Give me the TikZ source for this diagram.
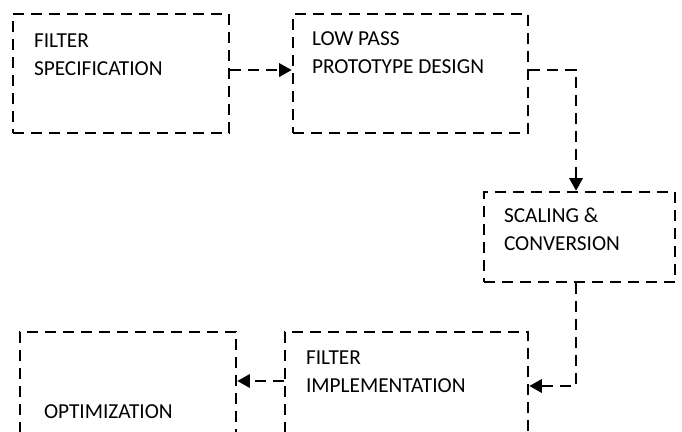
\documentclass[tikz,border=0pt]{standalone}
\usepackage{fontspec}
\setmainfont{Carlito}
\usetikzlibrary{arrows.meta}

\begin{document}
\begin{tikzpicture}[x=0.75pt,y=-0.75pt,
    box/.style={draw,line width=1.9pt,dash pattern=on 8.25pt off 5.25pt,inner sep=0pt},
    lbl/.style={anchor=north west,inner sep=0pt,align=left,font=\fontsize{16}{21}\selectfont},
    flow/.style={line width=1.9pt,dash pattern=on 8.25pt off 5.25pt,-{Triangle[length=9.5pt,width=10pt]}}]
    \useasboundingbox (0,0) rectangle (682,432);
    \clip (0,0) rectangle (682,432);
    % boxes
    \node[box,minimum width=162pt,minimum height=89.25pt] (spec) at (121,73.5) {};
    \node[box,minimum width=176.25pt,minimum height=89.25pt] (proto) at (410.5,73.5) {};
    \node[box,minimum width=143.25pt,minimum height=67.5pt] (scale) at (579.5,237) {};
    \node[box,minimum width=182.25pt,minimum height=81pt] (impl) at (406.5,386) {};
    \node[box,minimum width=162pt,minimum height=81pt] (opt) at (128,386) {};
    % texts
    \node[lbl] (specText) at ([shift={(22,21)}]spec.north west) {FILTER\\SPECIFICATION};
    \node[lbl] (protoText) at ([shift={(20,19)}]proto.north west) {LOW PASS\\PROTOTYPE DESIGN};
    \node[lbl] (scaleText) at ([shift={(21,17)}]scale.north west) {SCALING \&\\CONVERSION};
    \node[lbl] (implText) at ([shift={(22,20)}]impl.north west) {FILTER\\IMPLEMENTATION};
    \node[lbl] (optText) at ([shift={(25,74)}]opt.north west) {OPTIMIZATION};
    % arrows
    \draw[flow] ([yshift=2.6pt]spec.east) -- ([yshift=2.6pt]proto.west);
    \draw[flow] ([yshift=2.6pt]proto.east) -| ([xshift=-2.6pt]scale.north);
    \draw[flow] ([xshift=-2.6pt]scale.south) |- (impl.east);
    \draw[flow] ([yshift=3.75pt]impl.west) -- ([yshift=3.75pt]opt.east);
\end{tikzpicture}
\end{document}
